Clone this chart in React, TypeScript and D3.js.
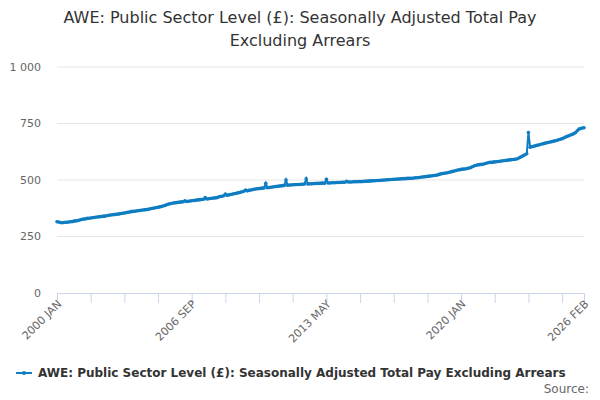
import { useEffect, useRef } from 'react';
import * as d3 from 'd3';

const WIDTH = 600;
const HEIGHT = 400;
const MARGIN = { top: 67, right: 16, bottom: 107, left: 57 };

const START_YEAR = 2000;
const MONTHS = ['JAN', 'FEB', 'MAR', 'APR', 'MAY', 'JUN', 'JUL', 'AUG', 'SEP', 'OCT', 'NOV', 'DEC'];

// monthly values per year, £
const v2000 = [315, 314, 312, 311, 312, 313, 313, 314, 315, 316, 318, 319];
const v2001 = [320, 322, 324, 326, 327, 328, 330, 331, 332, 333, 334, 335];
const v2002 = [336, 337, 338, 339, 340, 341, 343, 344, 345, 346, 347, 348];
const v2003 = [349, 350, 352, 353, 354, 355, 357, 358, 360, 361, 362, 363];
const v2004 = [364, 365, 366, 367, 368, 369, 370, 372, 374, 375, 376, 378];
const v2005 = [379, 381, 383, 385, 387, 390, 393, 395, 396, 398, 399, 400];
const v2006 = [401, 402, 403, 404, 408, 405, 406, 407, 408, 409, 410, 411];
const v2007 = [412, 413, 414, 415, 422, 416, 417, 418, 419, 420, 421, 422];
const v2008 = [425, 427, 428, 430, 438, 432, 434, 436, 437, 439, 440, 442];
const v2009 = [444, 446, 448, 450, 456, 452, 454, 456, 457, 459, 460, 461];
const v2010 = [462, 463, 464, 465, 485, 466, 467, 468, 469, 470, 471, 472];
const v2011 = [473, 474, 475, 476, 500, 477, 478, 478, 479, 479, 480, 480];
const v2012 = [480, 481, 481, 482, 505, 482, 483, 483, 484, 484, 485, 485];
const v2013 = [485, 486, 486, 486, 503, 487, 487, 488, 488, 488, 489, 489];
const v2014 = [489, 490, 490, 490, 494, 491, 491, 491, 492, 492, 492, 493];
const v2015 = [493, 493, 494, 494, 495, 495, 496, 496, 497, 497, 498, 498];
const v2016 = [499, 499, 500, 500, 501, 501, 502, 502, 503, 503, 504, 504];
const v2017 = [505, 505, 506, 506, 507, 507, 508, 508, 509, 510, 510, 511];
const v2018 = [512, 513, 514, 515, 516, 517, 518, 519, 520, 521, 522, 525];
const v2019 = [527, 529, 530, 531, 532, 534, 536, 538, 540, 542, 544, 545];
const v2020 = [547, 548, 549, 550, 552, 553, 556, 560, 563, 565, 567, 568];
const v2021 = [569, 570, 572, 574, 576, 578, 578, 579, 580, 581, 582, 583];
const v2022 = [584, 585, 586, 587, 588, 589, 590, 591, 592, 593, 596, 600];
const v2023 = [604, 608, 612, 616, 710, 645, 647, 649, 651, 653, 655, 657];
const v2024 = [659, 661, 663, 665, 667, 668, 670, 672, 674, 676, 678, 680];
const v2025 = [683, 686, 690, 693, 696, 699, 702, 705, 710, 718, 725, 728];
const v2026 = [730, 731];

const values = [
  v2000, v2001, v2002, v2003, v2004, v2005, v2006, v2007, v2008, v2009,
  v2010, v2011, v2012, v2013, v2014, v2015, v2016, v2017, v2018, v2019,
  v2020, v2021, v2022, v2023, v2024, v2025, v2026,
].flat();

const labels = values.map((_, i) => `${START_YEAR + Math.floor(i / 12)} ${MONTHS[i % 12]}`);
const yTicks = [0, 250, 500, 750, 1000];
const COLOR = '#0f7dc2';
const FONT = 'DejaVu Sans, sans-serif';

const App = () => {
  const axesRef = useRef(null);
  const boundsWidth = WIDTH - MARGIN.left - MARGIN.right;
  const boundsHeight = HEIGHT - MARGIN.top - MARGIN.bottom;
  const last = values.length - 1;

  const xScale = d3.scaleLinear().domain([0, last]).range([0, boundsWidth]);
  const yScale = d3.scaleLinear().domain([0, 1000]).range([boundsHeight, 0]);

  useEffect(() => {
    const g = d3.select(axesRef.current);
    g.selectAll('*').remove();
    const tickIdx = d3.range(0, last, 20).concat([last]);
    const labelIdx = new Set([0, 80, 160, 240, last]);
    const xAxis = d3
      .axisBottom(xScale)
      .tickValues(tickIdx)
      .tickSize(10)
      .tickFormat((d) => (labelIdx.has(d as number) ? labels[d as number] : ''));
    const ax = g.append('g').attr('transform', `translate(0,${boundsHeight})`).call(xAxis);
    ax.selectAll('path,line').attr('stroke', '#ccd6eb');
    ax.selectAll('text')
      .attr('font-family', FONT)
      .attr('font-size', 11)
      .attr('fill', '#666')
      .attr('text-anchor', 'end')
      .attr('x', 0)
      .attr('y', 0)
      .attr('dy', '0.35em')
      .attr('transform', 'translate(2,9) rotate(-45)');
  }, [xScale, boundsHeight, last]);

  const linePath = d3
    .line<number>()
    .x((_, i) => xScale(i))
    .y((d) => yScale(d))(values);

  return (
    <svg width={WIDTH} height={HEIGHT} style={{ position: 'absolute', left: 0, top: 0 }}>
      <rect width={WIDTH} height={HEIGHT} fill="#fff" />
      <text x={WIDTH / 2} y={23} textAnchor="middle" fontFamily={FONT} fontSize={16} fill="#333">
        AWE: Public Sector Level (£): Seasonally Adjusted Total Pay
      </text>
      <text x={WIDTH / 2} y={46} textAnchor="middle" fontFamily={FONT} fontSize={16} fill="#333">
        Excluding Arrears
      </text>
      <g transform={`translate(${MARGIN.left},${MARGIN.top})`}>
        {yTicks.map((t) => (
          <g key={t}>
            {t > 0 && (
              <line x1={0} x2={boundsWidth} y1={yScale(t)} y2={yScale(t)} stroke="#e6e6e6" />
            )}
            <text
              x={-16}
              y={yScale(t)}
              dy="0.35em"
              textAnchor="end"
              fontFamily={FONT}
              fontSize={11}
              fill="#666"
            >
              {t === 1000 ? '1 000' : t}
            </text>
          </g>
        ))}
        <path d={linePath || ''} fill="none" stroke={COLOR} strokeWidth={2} />
        {values.map((v, i) => (
          <circle key={i} cx={xScale(i)} cy={yScale(v)} r={1.8} fill={COLOR} />
        ))}
      </g>
      <g ref={axesRef} transform={`translate(${MARGIN.left},${MARGIN.top})`} />
      <g transform="translate(0,373)">
        <line x1={16} x2={32} y1={0} y2={0} stroke={COLOR} strokeWidth={2} />
        <circle cx={24} cy={0} r={2} fill={COLOR} />
        <text x={38} y={0} dy="0.35em" fontFamily={FONT} fontSize={12} fontWeight="bold" fill="#333">
          AWE: Public Sector Level (£): Seasonally Adjusted Total Pay Excluding Arrears
        </text>
      </g>
      <text x={589} y={393} textAnchor="end" fontFamily={FONT} fontSize={12} fill="#666">
        Source:
      </text>
    </svg>
  );
};

export default App;
